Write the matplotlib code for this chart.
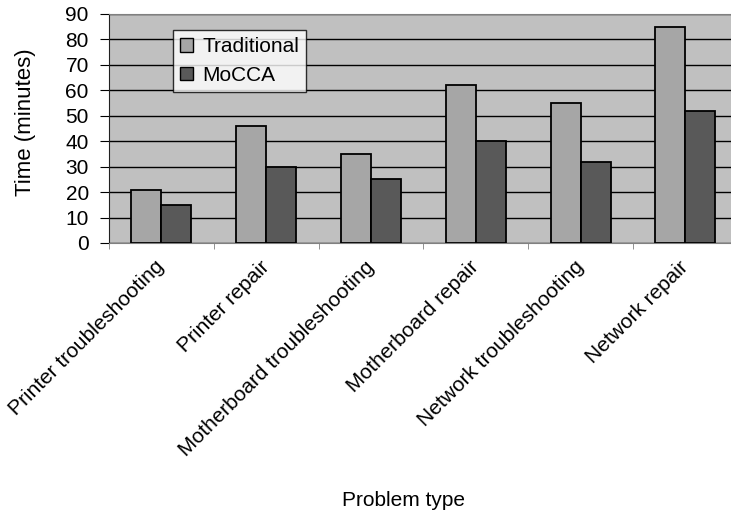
import numpy as np
import matplotlib.pyplot as plt
from matplotlib.ticker import FixedLocator
from matplotlib.transforms import ScaledTranslation

plt.rcParams['font.family'] = ['Liberation Sans', 'DejaVu Sans']

problems = ["Printer troubleshooting", "Printer repair", "Motherboard troubleshooting",
            "Motherboard repair", "Network troubleshooting", "Network repair"]
traditional = [21, 46, 35, 62, 55, 85]
mocca = [15, 30, 25, 40, 32, 52]

fig = plt.figure(figsize=(7.31, 5.13), dpi=100)
ax = fig.add_axes([109 / 731, 1 - 243 / 513, 622 / 731, 229 / 513])

x = np.arange(len(problems))
w = 0.286
ax.set_facecolor("#c0c0c0")
ax.set_axisbelow(True)
ax.yaxis.grid(True, color="black", linewidth=1.0)
ax.bar(x - w / 2, traditional, w, color="#a6a6a6", edgecolor="black", linewidth=1.3,
       label="Traditional", zorder=3)
ax.bar(x + w / 2, mocca, w, color="#595959", edgecolor="black", linewidth=1.3,
       label="MoCCA", zorder=3)

ax.set_ylim(0, 90)
ax.set_yticks(range(0, 91, 10))
ax.set_xlim(-0.5, 5.435)

# category labels at centres, tick marks at the boundaries
ax.set_xticks(x)
ax.set_xticklabels(problems, rotation=45, ha="right", va="center", rotation_mode="anchor")
ax.tick_params(axis="x", which="major", length=0, pad=15, labelsize=15)
shift = ScaledTranslation(0, 0, fig.dpi_scale_trans)
for lbl in ax.get_xticklabels():
    lbl.set_transform(lbl.get_transform() + shift)
ax.xaxis.set_minor_locator(FixedLocator(np.arange(-0.5, 6, 1.0)))
ax.tick_params(axis="x", which="minor", length=4, color="#808080", direction="out")
ax.tick_params(axis="y", length=6.5, direction="out", labelsize=15, pad=8)

ax.spines["right"].set_visible(False)
ax.spines["top"].set_color("#808080")
ax.spines["bottom"].set_color("#808080")
ax.spines["left"].set_color("#202020")

ax.set_ylabel("Time (minutes)", fontsize=16)
ax.yaxis.set_label_coords((36 - 109) / 622, (243 - 122) / 229)
fig.text(403 / 731, 1 - 500 / 513, "Problem type", fontsize=15, ha="center", va="center")

leg = ax.legend(loc="upper left", bbox_to_anchor=((173 - 109) / 622, (243 - 30) / 229),
                frameon=True, fancybox=False, fontsize=15, handlelength=0.6,
                handleheight=0.6, handletextpad=0.45, borderpad=0.35, labelspacing=0.45,
                borderaxespad=0)
leg.get_frame().set_edgecolor("black")
leg.get_frame().set_facecolor("white")
leg.get_frame().set_linewidth(1.0)
for h in leg.legend_handles:
    h.set_linewidth(1.0)

fig.savefig("out.png", dpi=100)
